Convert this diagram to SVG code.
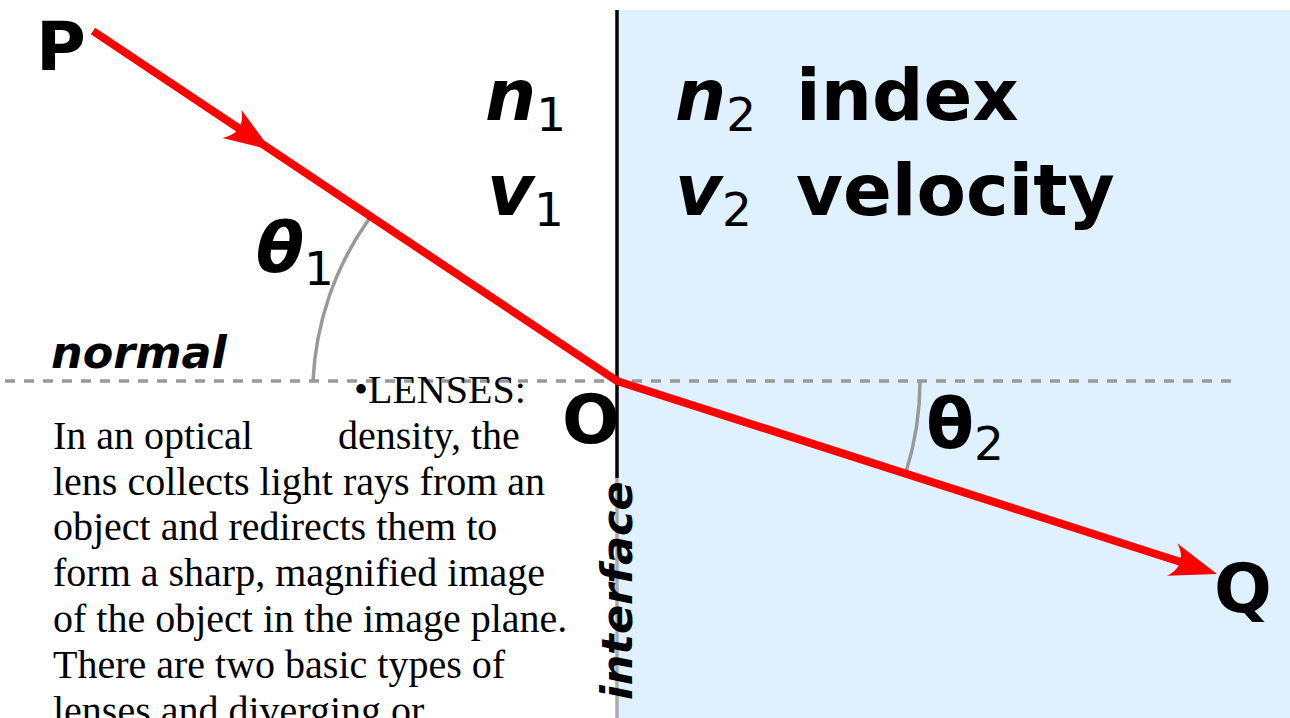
<svg xmlns="http://www.w3.org/2000/svg" xmlns:xlink="http://www.w3.org/1999/xlink" width="1290" height="718" viewBox="0 0 1290 718">
  <style>
    .lbl { font-family: "DejaVu Sans", sans-serif; font-weight: bold; fill: #000; }
    .obl { font-style: oblique; }
    .sub { font-weight: normal; font-style: normal; }
    .body { font-family: "Liberation Serif", "Times New Roman", serif; font-size: 40px; fill: #000; }
    .ray { fill: none; stroke: #ff0000; stroke-width: 8; stroke-linejoin: round; }
    .arc { fill: none; stroke: #999999; stroke-width: 3.5; }
  </style>
  <defs>
    <path id="ah" d="M0,0 L-47,-17 C-36,-6 -36,6 -47,17 Z" fill="#ff0000"/>
  </defs>
  <rect id="medium2" x="619" y="10" width="671" height="708" fill="#dff0fe"/>
  <g id="interface">
    <line x1="617" y1="10" x2="617" y2="478" stroke="#000" stroke-width="3.5"/>
    <line x1="617" y1="478" x2="617" y2="718" stroke="#aaaaaa" stroke-width="3.5"/>
    <text class="lbl obl" font-size="43" transform="translate(632,700) rotate(-90)">interface</text>
  </g>
  <g id="normal">
    <line x1="5" y1="381" x2="1240" y2="381" stroke="#999999" stroke-width="3.5" stroke-dasharray="10,9"/>
    <text class="lbl obl" font-size="44.5" x="51" y="368">normal</text>
  </g>
  <g id="angles">
    <path class="arc" d="M313,381 A304,304 0 0 1 369,219"/>
    <path class="arc" d="M920,381 A303,303 0 0 1 906,472"/>
  </g>
  <g id="connectors">
    <path class="ray" d="M93,31 L617,381 L1190,565"/>
    <use xlink:href="#ah" transform="translate(271,150) rotate(33.74)"/>
    <use xlink:href="#ah" transform="translate(1217,574) rotate(17.8)"/>
  </g>
  <g id="P"><text class="lbl" font-size="68" x="36" y="70">P</text></g>
  <g id="O"><text class="lbl" font-size="68" x="562" y="443">O</text></g>
  <g id="Q"><text class="lbl" font-size="68" x="1214" y="612">Q</text></g>
  <g id="medium1-labels">
    <text class="lbl" font-size="72" x="485" y="120"><tspan class="obl">n</tspan><tspan class="sub" font-size="47" dy="11">1</tspan></text>
    <text class="lbl" font-size="72" x="487" y="215"><tspan class="obl">v</tspan><tspan class="sub" font-size="47" dy="11">1</tspan></text>
  </g>
  <g id="medium2-labels">
    <text class="lbl" font-size="72" x="675" y="120"><tspan class="obl">n</tspan><tspan class="sub" font-size="47" dy="11">2</tspan><tspan dy="-11" x="796">index</tspan></text>
    <text class="lbl" font-size="72" x="675" y="215"><tspan class="obl">v</tspan><tspan class="sub" font-size="47" dy="11">2</tspan><tspan dy="-11" x="796">velocity</tspan></text>
  </g>
  <g id="theta1"><text class="lbl" font-size="70" x="256" y="272"><tspan class="obl">θ</tspan><tspan class="sub" font-size="47" dy="13">1</tspan></text></g>
  <g id="theta2"><text class="lbl" font-size="70" x="926" y="448"><tspan>θ</tspan><tspan class="sub" font-size="47" dy="12">2</tspan></text></g>
  <g id="lenses-text">
    <text class="body" x="354" y="403">•LENSES:</text>
    <text class="body" x="53" y="449">In an optical<tspan x="338">density, the</tspan></text>
    <text class="body" x="53" y="495">lens collects light rays from an</text>
    <text class="body" x="53" y="540">object and redirects them to</text>
    <text class="body" x="53" y="586">form a sharp, magnified image</text>
    <text class="body" x="53" y="632">of the object in the image plane.</text>
    <text class="body" x="53" y="678">There are two basic types of</text>
    <text class="body" x="53" y="724">lenses and diverging or</text>
  </g>
</svg>
